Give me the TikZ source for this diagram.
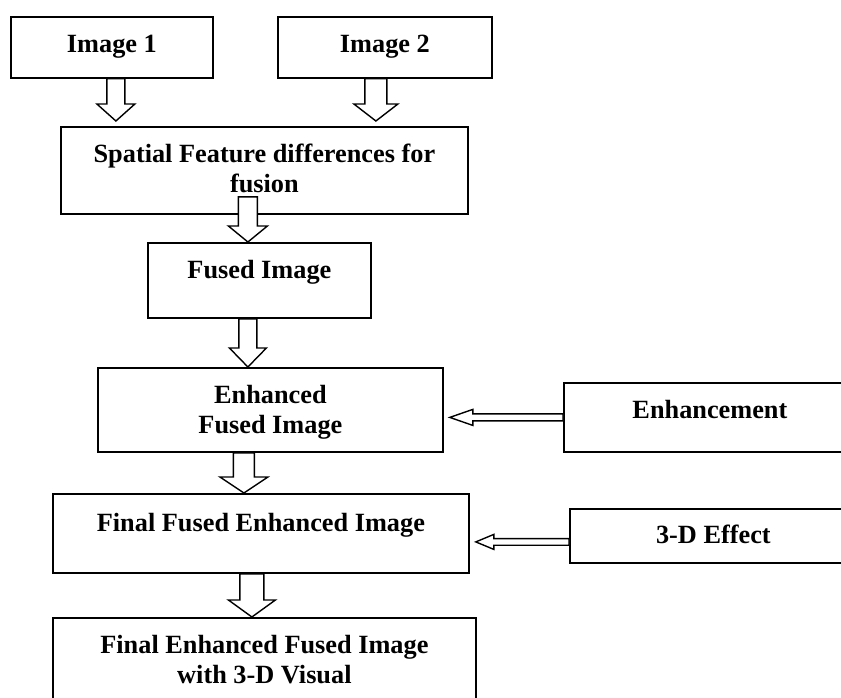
\documentclass[tikz,border=0pt]{standalone}
\usepackage{fontspec}
\setmainfont{Liberation Serif}
\usetikzlibrary{calc}
\newcommand{\bx}[4]{\parbox[c][#2][t]{#1}{\centering\rule{0pt}{#3}#4}}
\newcommand{\varrow}[5]{%
  \draw[arr] let \p1=(#1), \p2=(#2) in
    (\x1-#3,\y1) -- (\x1-#3,\y2+#5) -- (\x1-#4,\y2+#5) -- (\x1,\y2)
    -- (\x1+#4,\y2+#5) -- (\x1+#3,\y2+#5) -- (\x1+#3,\y1) -- cycle;}
\newcommand{\harrow}[5]{%
  \draw[arr] let \p1=(#1), \p2=(#2) in
    (\x1,\y1+#3) -- (\x2+#5,\y1+#3) -- (\x2+#5,\y1+#4) -- (\x2,\y1)
    -- (\x2+#5,\y1-#4) -- (\x2+#5,\y1-#3) -- (\x1,\y1-#3) -- cycle;}
\tikzset{
  box/.style={draw, line width=1.8pt, inner sep=0pt, anchor=north west, fill=white},
  arr/.style={draw, fill=white, line width=1.4pt, line join=miter}
}
\begin{document}
\begin{tikzpicture}[x=1pt, y=-1pt, font=\bfseries\fontsize{26.3}{29.5}\selectfont]
\useasboundingbox (0,0) rectangle (841,698);
\clip (0,0) rectangle (841,698);
\fill[white] (0,0) rectangle (841,698);
% boxes
\node[box] (img1) at (10,16) {\bx{202pt}{61pt}{36pt}{Image 1}};
\node[box] (img2) at (277,16) {\bx{214pt}{61pt}{36pt}{Image 2}};
\node[box] (spatial) at (60,126) {\bx{407pt}{87pt}{36pt}{Spatial Feature differences for\\ fusion}};
\node[box] (fused) at (147,242) {\bx{223pt}{75pt}{36pt}{Fused Image}};
\node[box] (enhanced) at (97,367) {\bx{345pt}{84pt}{36pt}{Enhanced\\ Fused Image}};
\node[box] (enh) at (563,382) {\bx{292pt}{69pt}{36pt}{Enhancement}};
\node[box] (final) at (52,493) {\bx{416pt}{79pt}{38pt}{Final Fused Enhanced Image}};
\node[box] (threed) at (569,508) {\bx{287pt}{54pt}{35pt}{3-D Effect}};
\node[box] (last) at (52,617) {\bx{423pt}{100pt}{36pt}{Final Enhanced Fused Image\\ with 3-D Visual}};
% vertical block arrows
\varrow{[xshift=4pt]img1.south}{[yshift=5pt]spatial.north}{9pt}{19pt}{17pt}
\varrow{[xshift=-9pt]img2.south}{[yshift=5pt]spatial.north}{11pt}{22pt}{17pt}
\varrow{[xshift=-16.5pt,yshift=18pt]spatial.south}{fused.north}{9.5pt}{19.5pt}{16pt}
\varrow{[xshift=-11.5pt]fused.south}{enhanced.north}{9pt}{18.5pt}{19pt}
\varrow{[xshift=-26.5pt]enhanced.south}{final.north}{10.5pt}{24pt}{16pt}
\varrow{[xshift=-9pt]final.south}{last.north}{12pt}{23.5pt}{17pt}
% horizontal arrows
\harrow{enh.west}{[xshift=6pt]enhanced.east}{3.5pt}{8pt}{23pt}
\harrow{[yshift=-6pt]threed.west}{[xshift=6pt]final.east}{3.3pt}{7.5pt}{18pt}
\end{tikzpicture}
\end{document}
